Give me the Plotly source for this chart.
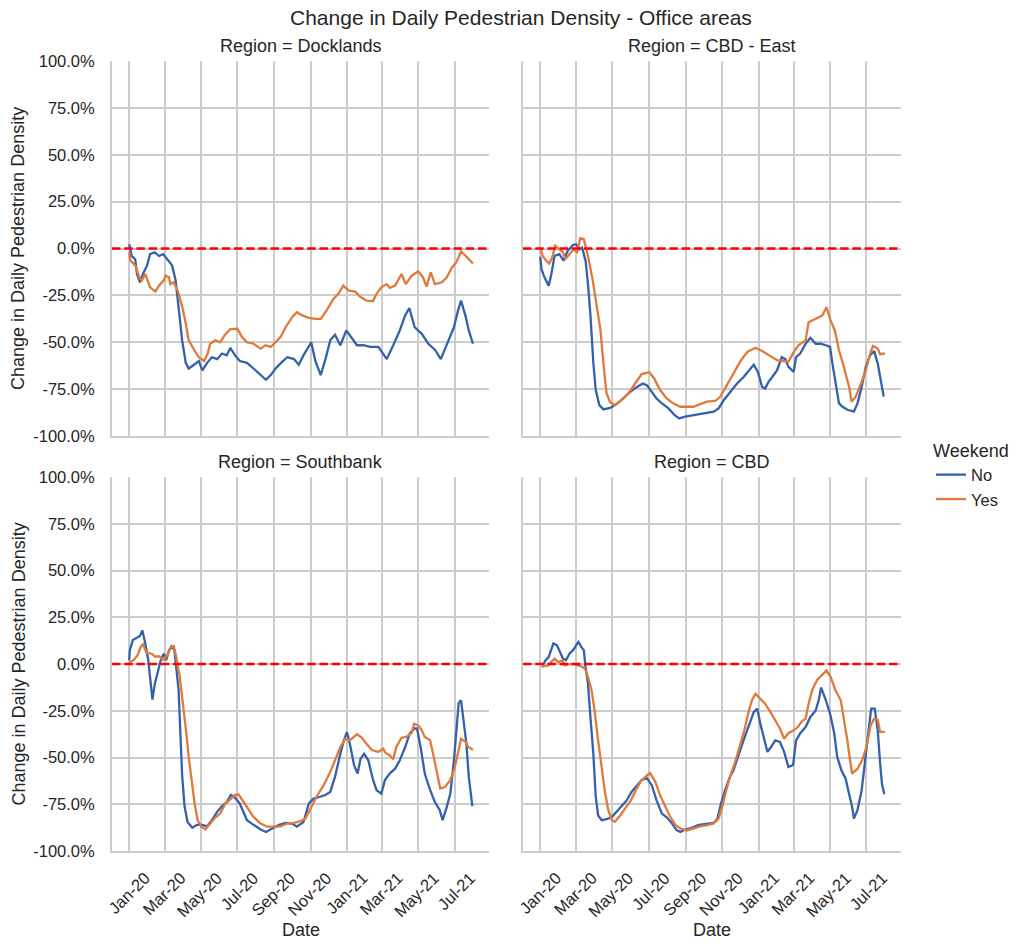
import plotly.graph_objects as go

# ---------------- data (values in % change) ----------------
tick_dates = ["2020-01-01", "2020-03-01", "2020-05-01", "2020-07-01", "2020-09-01",
              "2020-11-01", "2021-01-01", "2021-03-01", "2021-05-01", "2021-07-01"]
tick_labels = ["Jan-20", "Mar-20", "May-20", "Jul-20", "Sep-20",
               "Nov-20", "Jan-21", "Mar-21", "May-21", "Jul-21"]
y_ticks = [-100, -75, -50, -25, 0, 25, 50, 75, 100]

regions = ["Docklands", "CBD - East", "Southbank", "CBD"]

docklands_no_dates = ["2020-01-01", "2020-01-05", "2020-01-11", "2020-01-14", "2020-01-19", "2020-01-24", "2020-01-31",
    "2020-02-05", "2020-02-13", "2020-02-20", "2020-02-27", "2020-03-05", "2020-03-13", "2020-03-19", "2020-03-24",
    "2020-03-30", "2020-04-05", "2020-04-10", "2020-04-19", "2020-04-27", "2020-05-03", "2020-05-11", "2020-05-19",
    "2020-05-28", "2020-06-05", "2020-06-13", "2020-06-19", "2020-06-27", "2020-07-05", "2020-07-17", "2020-07-28",
    "2020-08-09", "2020-08-18", "2020-08-26", "2020-09-03", "2020-09-14", "2020-09-23", "2020-10-04", "2020-10-12",
    "2020-10-20", "2020-10-26", "2020-11-02", "2020-11-09", "2020-11-18", "2020-11-26", "2020-12-04", "2020-12-12",
    "2020-12-21", "2020-12-31", "2021-01-09", "2021-01-18", "2021-01-29", "2021-02-09", "2021-02-23", "2021-03-09",
    "2021-03-20", "2021-03-31", "2021-04-09", "2021-04-16", "2021-04-25", "2021-05-07", "2021-05-18", "2021-05-29",
    "2021-06-08", "2021-06-18", "2021-06-30", "2021-07-07", "2021-07-12", "2021-07-20", "2021-07-25", "2021-08-01"]
docklands_no_vals = [2.3, -3.9, -5.7, -13.6, -18, -13.6, -9,
    -3, -2, -4, -3, -5.7, -9, -17, -33,
    -49, -61, -64, -62, -60, -65, -61, -58,
    -59, -56, -57, -53, -57, -60, -61, -64,
    -67.5, -70, -67.5, -64, -60.5, -58, -59, -62,
    -57, -54, -50, -60, -67.5, -59, -49, -46,
    -51.6, -43.7, -48, -51.6, -51.6, -52.5, -52.5, -59,
    -51.6, -43.7, -35.7, -31.7, -42, -45.5, -50.8, -54,
    -59, -50.8, -42, -33, -27.8, -36.6, -43.7, -50.8]

docklands_yes_dates = ["2020-01-01", "2020-01-03", "2020-01-11", "2020-01-18", "2020-01-22", "2020-01-28", "2020-02-05",
    "2020-02-14", "2020-02-20", "2020-02-28", "2020-03-02", "2020-03-08", "2020-03-10", "2020-03-16", "2020-03-23",
    "2020-03-30", "2020-04-05", "2020-04-10", "2020-04-19", "2020-04-27", "2020-05-06", "2020-05-12", "2020-05-16",
    "2020-05-25", "2020-06-02", "2020-06-10", "2020-06-19", "2020-07-01", "2020-07-08", "2020-07-17", "2020-07-28",
    "2020-08-09", "2020-08-17", "2020-08-26", "2020-09-03", "2020-09-12", "2020-09-20", "2020-10-01", "2020-10-09",
    "2020-10-18", "2020-10-29", "2020-11-09", "2020-11-18", "2020-11-28", "2020-12-09", "2020-12-18", "2020-12-26",
    "2021-01-04", "2021-01-15", "2021-01-23", "2021-02-03", "2021-02-14", "2021-02-20", "2021-02-28", "2021-03-09",
    "2021-03-14", "2021-03-23", "2021-04-03", "2021-04-10", "2021-04-20", "2021-05-01", "2021-05-09", "2021-05-15",
    "2021-05-22", "2021-05-29", "2021-06-10", "2021-06-18", "2021-06-27", "2021-07-04", "2021-07-12", "2021-07-20",
    "2021-07-27", "2021-08-01"]
docklands_yes_vals = [-2, -6.5, -9, -15.4, -17, -13.6, -20.7,
    -23, -19.8, -17, -14.5, -15.4, -19, -18, -23,
    -31, -40, -49, -54, -58, -60, -56, -50.8,
    -49, -50, -46, -43, -42.8, -47, -50, -50.8,
    -53.4, -51.6, -52.5, -50, -47, -42, -36.6, -34,
    -35.7, -37, -37.5, -37.5, -33, -27, -24, -19.8,
    -22.5, -23, -25.6, -27.8, -28, -24, -20.7, -19,
    -21, -19.8, -13.6, -19, -14.5, -12.2, -15.4, -20.3,
    -12.7, -19, -18, -15.4, -10, -7.4, -1.6, -4,
    -6.5, -8]

cbd_east_no_dates = ["2020-01-01", "2020-01-03", "2020-01-08", "2020-01-15", "2020-01-19", "2020-01-25", "2020-02-02",
    "2020-02-09", "2020-02-16", "2020-02-25", "2020-03-01", "2020-03-07", "2020-03-11", "2020-03-17", "2020-03-21",
    "2020-03-25", "2020-03-30", "2020-04-03", "2020-04-09", "2020-04-16", "2020-04-27", "2020-05-08", "2020-05-19",
    "2020-05-31", "2020-06-11", "2020-06-21", "2020-06-28", "2020-07-06", "2020-07-14", "2020-07-23", "2020-08-03",
    "2020-08-13", "2020-08-21", "2020-08-31", "2020-09-14", "2020-10-01", "2020-10-18", "2020-10-26", "2020-11-04",
    "2020-11-15", "2020-11-26", "2020-12-07", "2020-12-16", "2020-12-24", "2020-12-31", "2021-01-07", "2021-01-12",
    "2021-01-18", "2021-01-24", "2021-02-01", "2021-02-09", "2021-02-15", "2021-02-20", "2021-03-01", "2021-03-05",
    "2021-03-12", "2021-03-21", "2021-03-29", "2021-04-07", "2021-04-15", "2021-04-24", "2021-05-01", "2021-05-05",
    "2021-05-10", "2021-05-16", "2021-05-22", "2021-05-30", "2021-06-10", "2021-06-16", "2021-06-23", "2021-06-30",
    "2021-07-07", "2021-07-14", "2021-07-20", "2021-07-25", "2021-07-30"]
cbd_east_no_vals = [-4.4, -11, -15.4, -19.8, -14.5, -3.9, -3,
    -6.5, -1.2, 1.9, 2.3, -0.4, 0.5, -6.5, -19,
    -35, -61, -75.5, -83.5, -85.8, -85, -83, -80,
    -76.4, -73.8, -72, -73, -76.4, -80, -82.6, -85.3,
    -88.8, -90.6, -89.7, -88.8, -88, -87, -85.3, -80.8,
    -76.4, -72, -68.5, -65, -62, -65.8, -73.8, -74.7,
    -71, -68.5, -65, -58, -59, -63, -65.8, -58,
    -56, -50.8, -47.6, -50.8, -50.8, -51.6, -52.5, -61.4,
    -72, -82.6, -84.4, -86, -87, -82.6, -73.8, -63,
    -57, -54.7, -61.4, -71, -79]

cbd_east_yes_dates = ["2020-01-02", "2020-01-05", "2020-01-11", "2020-01-16", "2020-01-21", "2020-01-26", "2020-02-02",
    "2020-02-08", "2020-02-12", "2020-02-19", "2020-02-26", "2020-03-03", "2020-03-08", "2020-03-14", "2020-03-21",
    "2020-03-29", "2020-04-04", "2020-04-11", "2020-04-17", "2020-04-21", "2020-04-27", "2020-05-05", "2020-05-16",
    "2020-05-28", "2020-06-08", "2020-06-19", "2020-07-02", "2020-07-10", "2020-07-20", "2020-07-31", "2020-08-11",
    "2020-08-23", "2020-09-03", "2020-09-14", "2020-09-25", "2020-10-07", "2020-10-21", "2020-10-29", "2020-11-09",
    "2020-11-20", "2020-12-01", "2020-12-13", "2020-12-27", "2021-01-07", "2021-01-18", "2021-02-01", "2021-02-12",
    "2021-02-20", "2021-03-01", "2021-03-09", "2021-03-21", "2021-03-26", "2021-04-07", "2021-04-18", "2021-04-25",
    "2021-05-02", "2021-05-09", "2021-05-16", "2021-05-24", "2021-06-02", "2021-06-06", "2021-06-13", "2021-06-22",
    "2021-06-30", "2021-07-08", "2021-07-12", "2021-07-20", "2021-07-24", "2021-08-01"]
cbd_east_yes_vals = [-0.4, -4, -6.5, -8, -4.8, 1.4, -0.4,
    -2, -5.7, -3, -0.4, -2, 5.5, 5, -4,
    -17, -29.5, -43.7, -65, -77, -82, -83.5, -80.8,
    -77.3, -72, -67, -66, -69.3, -75.5, -80, -82.6,
    -84.4, -84.4, -84.4, -83, -81.7, -81.2, -79, -72.9,
    -66.7, -60.5, -55.2, -52.9, -54.7, -57, -59.6, -60,
    -60.5, -55.2, -51.6, -49, -39.3, -37.5, -35.7, -31.3,
    -38.4, -43.7, -54.3, -63, -73.8, -81.7, -79, -72,
    -65, -55.2, -52, -53.4, -56.4, -56]

southbank_no_dates = ["2020-01-01", "2020-01-02", "2020-01-07", "2020-01-13", "2020-01-19", "2020-01-23", "2020-01-28",
    "2020-02-02", "2020-02-06", "2020-02-09", "2020-02-13", "2020-02-20", "2020-02-23", "2020-02-28", "2020-03-03",
    "2020-03-08", "2020-03-12", "2020-03-17", "2020-03-20", "2020-03-24", "2020-03-27", "2020-03-30", "2020-04-03",
    "2020-04-08", "2020-04-16", "2020-04-24", "2020-05-03", "2020-05-11", "2020-05-19", "2020-05-28", "2020-06-05",
    "2020-06-13", "2020-06-20", "2020-06-27", "2020-07-05", "2020-07-11", "2020-07-17", "2020-07-28", "2020-08-09",
    "2020-08-18", "2020-08-28", "2020-09-09", "2020-09-20", "2020-10-01", "2020-10-09", "2020-10-20", "2020-10-29",
    "2020-11-06", "2020-11-17", "2020-11-26", "2020-12-04", "2020-12-12", "2020-12-21", "2020-12-27", "2021-01-01",
    "2021-01-06", "2021-01-13", "2021-01-19", "2021-01-24", "2021-01-30", "2021-02-06", "2021-02-14", "2021-02-20",
    "2021-02-28", "2021-03-06", "2021-03-14", "2021-03-23", "2021-03-31", "2021-04-09", "2021-04-17", "2021-04-25",
    "2021-04-29", "2021-05-05", "2021-05-12", "2021-05-21", "2021-05-29", "2021-06-06", "2021-06-11", "2021-06-18",
    "2021-06-24", "2021-06-30", "2021-07-05", "2021-07-08", "2021-07-12", "2021-07-17", "2021-07-21", "2021-07-25",
    "2021-07-31"]
southbank_no_vals = [2, 7.4, 12.8, 14, 15, 18, 11,
    2, -10.5, -19, -10.5, -1.6, 2, 5.5, 2,
    7.4, 9.5, 7.4, -1.6, -14, -37, -60, -76,
    -84.5, -87.6, -86, -86, -86.8, -83.5, -79, -76,
    -73.8, -70, -71.5, -74.7, -79, -83.5, -86, -88.5,
    -89.8, -88, -86, -85, -85.3, -87, -84.5, -74.7,
    -72, -71, -70, -68.4, -60.4, -48, -40.8, -36.4,
    -42.6, -54, -58.6, -50.6, -48, -51.5, -62, -67.5,
    -69.3, -62, -58.6, -56, -51.5, -44.4, -37, -34.5,
    -34.5, -44.4, -58.6, -67.5, -73.8, -78, -83.5, -76.4,
    -69.3, -51.5, -33.7, -21, -19.4, -33.7, -42.6, -60.4,
    -76]

southbank_yes_dates = ["2020-01-01", "2020-01-08", "2020-01-15", "2020-01-20", "2020-01-24", "2020-01-30", "2020-02-08",
    "2020-02-13", "2020-02-21", "2020-02-27", "2020-03-05", "2020-03-11", "2020-03-16", "2020-03-20", "2020-03-26",
    "2020-04-02", "2020-04-06", "2020-04-10", "2020-04-15", "2020-04-20", "2020-04-25", "2020-05-01", "2020-05-08",
    "2020-05-16", "2020-05-25", "2020-06-02", "2020-06-10", "2020-06-20", "2020-06-27", "2020-07-03", "2020-07-11",
    "2020-07-20", "2020-07-28", "2020-08-09", "2020-08-20", "2020-08-31", "2020-09-11", "2020-09-23", "2020-10-04",
    "2020-10-15", "2020-10-23", "2020-11-01", "2020-11-11", "2020-11-23", "2020-12-04", "2020-12-12", "2020-12-21",
    "2020-12-29", "2021-01-06", "2021-01-18", "2021-01-26", "2021-02-03", "2021-02-12", "2021-02-23", "2021-03-03",
    "2021-03-07", "2021-03-14", "2021-03-20", "2021-03-25", "2021-04-03", "2021-04-11", "2021-04-20", "2021-04-24",
    "2021-05-01", "2021-05-07", "2021-05-12", "2021-05-21", "2021-05-26", "2021-06-01", "2021-06-07", "2021-06-15",
    "2021-06-24", "2021-07-01", "2021-07-06", "2021-07-12", "2021-07-20", "2021-07-24", "2021-08-01"]
southbank_yes_vals = [1, 2, 4.6, 9, 10.5, 6, 5.5,
    4, 4, 2.3, 4.6, 9, 9.5, 3.7, -7,
    -24.8, -37, -49.7, -62, -74.7, -83.5, -87, -88.5,
    -85.3, -82, -80, -75, -72, -70, -69.8, -73.8,
    -78, -81.8, -85.3, -87, -87, -86.8, -85.3, -85,
    -84, -82.7, -77.3, -71, -64.8, -57.7, -51.5, -44.4,
    -40, -40.8, -37.6, -39.4, -42.6, -46, -47, -45.3,
    -47.6, -48.8, -51, -44.4, -39.4, -39, -36.9, -32,
    -32.8, -35.5, -39, -40.8, -48, -57, -66.6, -65.8,
    -62, -56, -48, -40, -41.7, -44.4, -45.8]

cbd_no_dates = ["2020-01-05", "2020-01-10", "2020-01-15", "2020-01-19", "2020-01-23", "2020-01-29", "2020-02-02",
    "2020-02-08", "2020-02-13", "2020-02-19", "2020-02-25", "2020-03-01", "2020-03-05", "2020-03-10", "2020-03-14",
    "2020-03-17", "2020-03-21", "2020-03-25", "2020-03-30", "2020-04-03", "2020-04-07", "2020-04-13", "2020-04-21",
    "2020-04-30", "2020-05-08", "2020-05-17", "2020-05-25", "2020-06-02", "2020-06-11", "2020-06-19", "2020-06-28",
    "2020-07-06", "2020-07-14", "2020-07-23", "2020-07-31", "2020-08-09", "2020-08-17", "2020-08-23", "2020-08-31",
    "2020-09-11", "2020-09-23", "2020-10-07", "2020-10-18", "2020-10-24", "2020-10-30", "2020-11-06", "2020-11-14",
    "2020-11-20", "2020-11-27", "2020-12-03", "2020-12-10", "2020-12-17", "2020-12-24", "2020-12-30", "2021-01-04",
    "2021-01-11", "2021-01-16", "2021-01-22", "2021-01-29", "2021-02-06", "2021-02-13", "2021-02-20", "2021-02-28",
    "2021-03-05", "2021-03-12", "2021-03-21", "2021-03-29", "2021-04-07", "2021-04-12", "2021-04-16", "2021-04-24",
    "2021-05-01", "2021-05-08", "2021-05-13", "2021-05-20", "2021-05-27", "2021-06-02", "2021-06-07", "2021-06-10",
    "2021-06-16", "2021-06-23", "2021-06-29", "2021-07-04", "2021-07-09", "2021-07-15", "2021-07-20", "2021-07-24",
    "2021-07-27", "2021-07-31"]
cbd_no_vals = [-0.7, 2, 3.7, 7.4, 11, 10, 7.4,
    2.9, 2, 5.5, 7.4, 10, 11.8, 9, 7.4,
    -1.6, -10.5, -28, -48, -71, -81, -83.5, -83,
    -81.8, -79, -75.5, -72.9, -68.4, -64.8, -62, -61.2,
    -64.8, -72.9, -80, -82, -85.3, -89, -89.8, -88.5,
    -87.6, -86, -85.6, -85, -82.7, -74.7, -67.5, -60.4,
    -56.8, -49.7, -44.4, -38, -31.9, -25.7, -23.9, -31.9,
    -40.8, -47, -44.4, -40.8, -41.7, -47, -55, -54,
    -40.8, -37, -33.7, -28.3, -24.8, -19.4, -12.6, -19.4,
    -26.5, -37, -49.7, -56.8, -61.2, -69.3, -76.4, -82.7,
    -78, -67.5, -51.4, -37, -23.9, -23.9, -35.5, -53,
    -64, -69.7]

cbd_yes_dates = ["2020-01-03", "2020-01-08", "2020-01-15", "2020-01-19", "2020-01-25", "2020-01-31", "2020-02-07",
    "2020-02-11", "2020-02-17", "2020-02-25", "2020-03-04", "2020-03-10", "2020-03-16", "2020-03-21", "2020-03-27",
    "2020-04-01", "2020-04-07", "2020-04-13", "2020-04-18", "2020-04-24", "2020-04-30", "2020-05-05", "2020-05-14",
    "2020-05-22", "2020-06-01", "2020-06-09", "2020-06-17", "2020-06-25", "2020-07-03", "2020-07-12", "2020-07-20",
    "2020-07-29", "2020-08-06", "2020-08-15", "2020-08-23", "2020-09-03", "2020-09-14", "2020-09-25", "2020-10-07",
    "2020-10-18", "2020-10-26", "2020-11-01", "2020-11-08", "2020-11-15", "2020-11-22", "2020-11-29", "2020-12-07",
    "2020-12-16", "2020-12-21", "2020-12-27", "2021-01-04", "2021-01-12", "2021-01-21", "2021-01-29", "2021-02-06",
    "2021-02-13", "2021-02-20", "2021-03-01", "2021-03-08", "2021-03-15", "2021-03-21", "2021-03-26", "2021-04-01",
    "2021-04-09", "2021-04-18", "2021-04-25", "2021-05-02", "2021-05-10", "2021-05-19", "2021-05-24", "2021-05-30",
    "2021-06-04", "2021-06-07", "2021-06-16", "2021-06-24", "2021-07-01", "2021-07-08", "2021-07-14", "2021-07-20",
    "2021-07-24", "2021-08-01"]
cbd_yes_vals = [-1.6, -1.3, -0.7, 1, 2.9, 1, 2,
    -0.7, -0.2, 0, -0.7, -1.3, -2.5, -7, -14,
    -24.8, -40.8, -56.8, -67.5, -78, -83.5, -84.4, -81,
    -77.3, -72.9, -67.5, -63, -60.4, -58.3, -63, -70.2,
    -76.4, -81.8, -86.2, -88, -89, -88, -86.8, -86.2,
    -85.3, -82.7, -76.4, -67.5, -59.5, -53.3, -46, -37,
    -24.8, -19.4, -15.9, -18.5, -21.2, -25.7, -30, -34.5,
    -40, -37, -35.5, -33.7, -30.5, -29.3, -21.2, -14,
    -8.7, -6, -3.4, -7, -14, -19.4, -28.3, -40.8,
    -52.4, -58.6, -56, -51.4, -44.4, -32.8, -29.2, -30,
    -36.3, -36.3]

# ---------------- styling ----------------
FONT = "Liberation Sans, Arial, sans-serif"
TXT = "#262626"
GRID = "#cccccc"
BLUE = "#3461ab"
ORANGE = "#e07a3a"
W, H = 1024, 951

series = [
    (docklands_no_dates, docklands_no_vals, docklands_yes_dates, docklands_yes_vals),
    (cbd_east_no_dates, cbd_east_no_vals, cbd_east_yes_dates, cbd_east_yes_vals),
    (southbank_no_dates, southbank_no_vals, southbank_yes_dates, southbank_yes_vals),
    (cbd_no_dates, cbd_no_vals, cbd_yes_dates, cbd_yes_vals),
]

# panel pixel boxes: (left, right, top, bottom)
col_px = [(112, 489), (523, 901)]
row_px = [(61, 436), (477, 851)]

fig = go.Figure()
layout = dict(
    template="none",
    width=W, height=H, margin=dict(l=0, r=0, t=0, b=0, autoexpand=False),
    paper_bgcolor="white", plot_bgcolor="white",
    font=dict(family=FONT, color=TXT, size=16.5),
    showlegend=True,
)
annotations = []
shapes = []

for i, region in enumerate(regions):
    r, c = divmod(i, 2)
    k = i + 1
    xa = "x" if k == 1 else f"x{k}"
    ya = "y" if k == 1 else f"y{k}"
    xl, xr = col_px[c]
    yt, yb = row_px[r]
    no_d, no_v, yes_d, yes_v = series[i]
    fig.add_trace(go.Scatter(x=no_d, y=no_v, mode="lines", name="No", legendgroup="No",
                             showlegend=(i == 0), line=dict(color=BLUE, width=2.3),
                             xaxis=xa, yaxis=ya, hoverinfo="skip"))
    fig.add_trace(go.Scatter(x=yes_d, y=yes_v, mode="lines", name="Yes", legendgroup="Yes",
                             showlegend=(i == 0), line=dict(color=ORANGE, width=2.3),
                             xaxis=xa, yaxis=ya, hoverinfo="skip"))
    xkey = "xaxis" if k == 1 else f"xaxis{k}"
    ykey = "yaxis" if k == 1 else f"yaxis{k}"
    layout[xkey] = dict(
        domain=[xl / W, xr / W], anchor=ya, type="date", automargin=False,
        range=["2019-12-03", "2021-08-28"],
        tickmode="array", tickvals=tick_dates, ticktext=tick_labels,
        tickangle=-45, showticklabels=(r == 1), ticks="",
        tickfont=dict(size=16.5, color=TXT, family=FONT),
        showgrid=True, gridcolor=GRID, gridwidth=1.5, zeroline=False,
        showline=True, linecolor=GRID, linewidth=2, mirror=False,
        ticklabelstandoff=9, ticklabelshift=16,
    )
    layout[ykey] = dict(
        domain=[1 - yb / H, 1 - yt / H], anchor=xa, automargin=False,
        range=[-100, 100],
        tickmode="array", tickvals=y_ticks, ticktext=[f"{v:.1f}%" for v in y_ticks],
        showticklabels=(c == 0), ticks="",
        tickfont=dict(size=16.5, color=TXT, family=FONT),
        showgrid=True, gridcolor=GRID, gridwidth=1.5, zeroline=False,
        showline=True, linecolor=GRID, linewidth=2, mirror=False,
        ticklabelstandoff=12,
    )
    # red dashed reference line at 0
    shapes.append(dict(type="line", xref=f"{xa} domain", yref=ya, x0=0, x1=1, y0=0, y1=0,
                       line=dict(color="#ff0000", width=2.3, dash="8.5px,3.7px"), layer="above"))
    # facet title
    annotations.append(dict(text=f"Region = {region}", x=(xl + xr) / 2 / W, y=1 - (yt - 15) / H,
                            xref="paper", yref="paper", xanchor="center", yanchor="middle",
                            showarrow=False, font=dict(size=18, color=TXT, family=FONT)))
    if r == 1:
        annotations.append(dict(text="Date", x=(xl + xr) / 2 / W, y=1 - 930 / H,
                                xref="paper", yref="paper", xanchor="center", yanchor="middle",
                                showarrow=False, font=dict(size=18, color=TXT, family=FONT)))
    if c == 0:
        annotations.append(dict(text="Change in Daily Pedestrian Density", x=18.5 / W,
                                y=1 - (yt + yb) / 2 / H, xref="paper", yref="paper",
                                xanchor="center", yanchor="middle", textangle=-90,
                                showarrow=False, font=dict(size=18, color=TXT, family=FONT)))

annotations.append(dict(text="Change in Daily Pedestrian Density - Office areas", x=521 / W, y=1 - 18 / H,
                        xref="paper", yref="paper", xanchor="center", yanchor="middle",
                        showarrow=False, font=dict(size=21, color=TXT, family=FONT)))

layout["annotations"] = annotations
layout["shapes"] = shapes
layout["legend"] = dict(
    x=931 / W, y=1 - 434 / H, xanchor="left", yanchor="top",
    title=dict(text="Weekend", font=dict(size=18, color=TXT, family=FONT)),
    font=dict(size=16.5, color=TXT, family=FONT),
    bgcolor="rgba(0,0,0,0)", borderwidth=0, tracegroupgap=0, itemwidth=30,
)
fig.update_layout(**layout)
fig.write_html("out.html", config={"displayModeBar": False},
               post_script="document.body.style.margin='0';document.body.style.padding='0';")
